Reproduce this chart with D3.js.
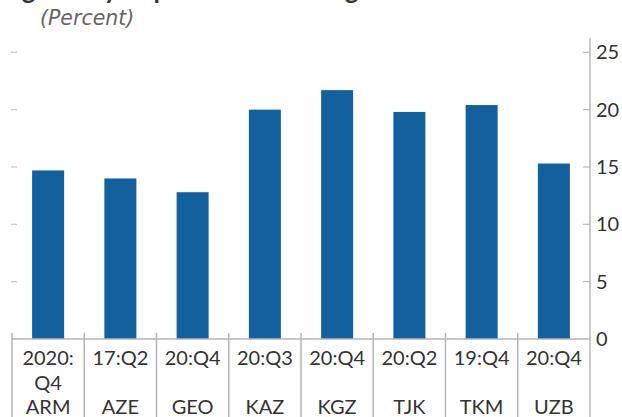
<!DOCTYPE html>
<html>
<head>
<meta charset="utf-8">
<script src="https://cdn.jsdelivr.net/npm/d3@7"></script>
<style>
  html, body { margin: 0; padding: 0; background: #fff; overflow: hidden; }
  svg { display: block; }
  text { font-family: Lato, "Open Sans", sans-serif; }
</style>
</head>
<body>
<div id="chart"></div>
<script>
'use strict';

// Dados do gráfico
const countries = ['ARM', 'AZE', 'GEO', 'KAZ', 'KGZ', 'TJK', 'TKM', 'UZB'];
const periods = [['2020:', 'Q4'], ['17:Q2'], ['20:Q4'], ['20:Q3'], ['20:Q4'], ['20:Q2'], ['19:Q4'], ['20:Q4']];
const values = [14.7, 14.0, 12.8, 20.0, 21.7, 19.8, 20.4, 15.3];
const yTicks = [0, 5, 10, 15, 20, 25];

const width = 622;
const height = 417;

const svg = d3.select('#chart').append('svg')
  .attr('width', width)
  .attr('height', height);

const x = d3.scaleBand().domain(countries).range([12, 590]).padding(0);
const y = d3.scaleLinear().domain([0, 25]).range([339, 52.3]);

const barColor = '#13609e';
const axisColor = '#b5b5b5';
const textColor = '#333';

// Título (cortado no topo, como no original)
svg.append('text')
  .attr('x', -8).attr('y', -1)
  .attr('font-size', 26).attr('font-weight', 700)
  .attr('fill', textColor)
  .text('Regulatory Capital to Risk-Weighted Assets');

svg.append('text')
  .attr('x', 40).attr('y', 25)
  .attr('font-size', 20.5).attr('font-style', 'italic')
  .style('font-family', '"DejaVu Sans", sans-serif')
  .attr('fill', '#666')
  .text('(Percent)');

// Barras
const bw = x.bandwidth() * 0.443;
svg.append('g').selectAll('rect')
  .data(values)
  .join('rect')
  .attr('x', (d, i) => x(countries[i]) + (x.bandwidth() - bw) / 2)
  .attr('y', d => y(d))
  .attr('width', bw)
  .attr('height', d => y(0) - y(d))
  .attr('fill', barColor);

// Eixo direito
const yAxis = svg.append('g')
  .attr('transform', `translate(590,0)`)
  .call(d3.axisRight(y).tickValues(yTicks).tickSize(0).tickPadding(6));
yAxis.select('.domain').remove();
yAxis.selectAll('text')
  .attr('font-size', 20).attr('fill', textColor)
  .style('font-family', 'Lato, sans-serif');

svg.append('line')
  .attr('x1', 590).attr('x2', 590)
  .attr('y1', 38).attr('y2', height)
  .attr('stroke', axisColor).attr('stroke-width', 1.5);

// Marcas dos ticks (direita e esquerda)
svg.append('g').selectAll('line')
  .data(yTicks.filter(t => t > 0))
  .join('line')
  .attr('x1', 583).attr('x2', 590)
  .attr('y1', d => y(d)).attr('y2', d => y(d))
  .attr('stroke', axisColor).attr('stroke-width', 1.2);

svg.append('g').selectAll('line')
  .data(yTicks.filter(t => t > 0))
  .join('line')
  .attr('x1', 11).attr('x2', 17)
  .attr('y1', d => y(d)).attr('y2', d => y(d))
  .attr('stroke', '#c8c8c8').attr('stroke-width', 1.2);

// Eixo x
svg.append('line')
  .attr('x1', 12).attr('x2', 590)
  .attr('y1', y(0)).attr('y2', y(0))
  .attr('stroke', axisColor).attr('stroke-width', 1.5);

const sepX = countries.map(c => x(c));
svg.append('g').selectAll('line')
  .data(sepX)
  .join('line')
  .attr('x1', d => d).attr('x2', d => d)
  .attr('y1', 333).attr('y2', height)
  .attr('stroke', axisColor).attr('stroke-width', 1.5);

// Rótulos das categorias
const lab = svg.append('g').selectAll('g')
  .data(countries)
  .join('g')
  .attr('transform', c => `translate(${x(c) + x.bandwidth() / 2},0)`);

lab.each(function (c, i) {
  const g = d3.select(this);
  periods[i].forEach((p, j) => {
    g.append('text')
      .attr('y', 365 + j * 24.5)
      .attr('text-anchor', 'middle')
      .attr('font-size', 20).attr('fill', textColor)
      .text(p);
  });
  g.append('text')
    .attr('y', 414)
    .attr('text-anchor', 'middle')
    .attr('font-size', 20).attr('fill', textColor)
    .text(c);
});
</script>
</body>
</html>
